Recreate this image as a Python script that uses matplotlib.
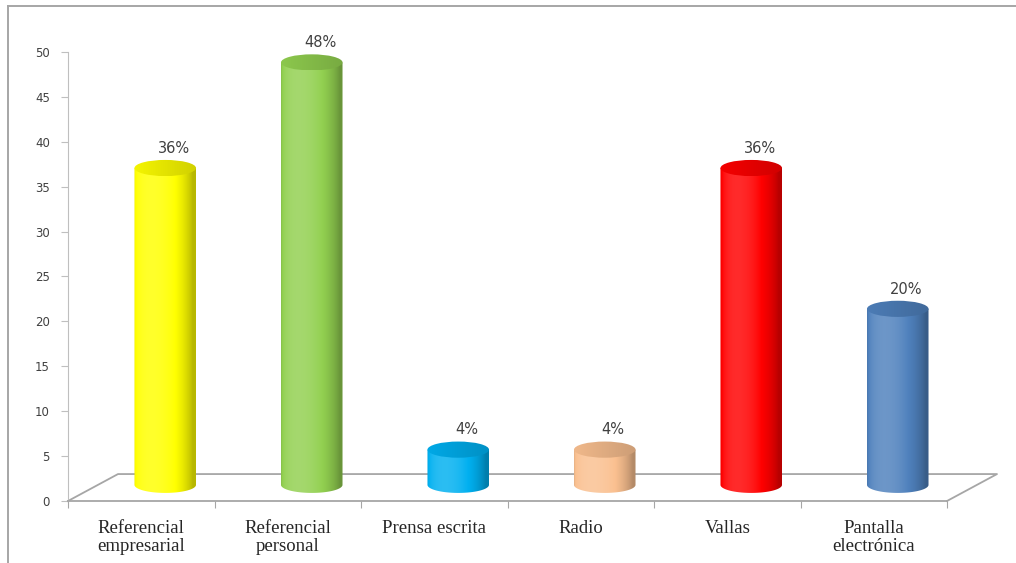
import numpy as np
import matplotlib.pyplot as plt
from matplotlib.patches import Polygon, Ellipse
from matplotlib.lines import Line2D
from matplotlib.colors import to_rgb

# datos de la encuesta
categorias = ["Referencial\nempresarial", "Referencial\npersonal", "Prensa escrita",
              "Radio", "Vallas", "Pantalla\nelectrónica"]
valores = [36, 48, 4, 4, 36, 20]
etiquetas = ["36%", "48%", "4%", "4%", "36%", "20%"]
colores = ["#FFFF00", "#92D050", "#00B0F0", "#FAC090", "#FF0000", "#4F81BD"]

W, H = 1016, 563
fig = plt.figure(figsize=(W / 100, H / 100), dpi=100)
fig.patch.set_facecolor("white")

# marco del grafico (solo arriba e izquierda)
gris = "#A6A6A6"
fig.add_artist(Line2D([8 / W, 1], [1 - 6 / H, 1 - 6 / H], color=gris, lw=1.4))
fig.add_artist(Line2D([8 / W, 8 / W], [0, 1 - 6 / H], color=gris, lw=1.4))

ax = fig.add_axes([68 / W, (H - 501) / H, 879 / W, 449 / H])
ax.set_xlim(-0.5, 5.5)
ax.set_ylim(0, 50)
ax.set_autoscale_on(False)

# piso en perspectiva
dx, dy = 50 / 146.5, 3.0
ax.plot([5.5, 5.5 + dx, -0.5 + dx, -0.5], [0, dy, dy, 0],
        color=gris, lw=1.3, clip_on=False)


def sombreado(base, n=200, luz=-0.45):
    t = np.linspace(-1, 1, n)
    phi = np.arcsin(t)
    b = 0.72 + 0.4 * np.clip(np.cos(phi - luz), 0, None)
    c = np.array(to_rgb(base))
    img = np.zeros((1, n, 3))
    for k in range(n):
        if b[k] <= 1:
            img[0, k] = c * b[k]
        else:
            img[0, k] = c + (1 - c) * (b[k] - 1) * 1.4
    return np.clip(img, 0, 1)


r, h = 0.21, 0.9
y0 = 1.8
escala = 0.98
off = 24 / 146.5
for i, (v, col, lab) in enumerate(zip(valores, colores, etiquetas)):
    cx = i + off
    y1 = y0 + v * escala
    th = np.linspace(np.pi, 2 * np.pi, 80)
    pts = np.column_stack([cx + r * np.cos(th), y0 + h * np.sin(th)])
    pts = np.vstack([[cx - r, y1], pts, [cx + r, y1]])
    cuerpo = Polygon(pts, closed=True, transform=ax.transData, facecolor="none", edgecolor="none")
    ax.add_patch(cuerpo)
    im = ax.imshow(sombreado(col), extent=(cx - r, cx + r, y0 - h, y1 + h),
                   aspect="auto", interpolation="bilinear", zorder=2)
    im.set_clip_path(cuerpo)

    tapa = Ellipse((cx, y1), 2 * r, 2 * h, transform=ax.transData,
                   facecolor="none", edgecolor="none")
    ax.add_patch(tapa)
    c = np.array(to_rgb(col))
    g = np.linspace(0.96, 0.82, 100)
    timg = np.clip(c[None, None, :] * g[None, :, None], 0, 1)
    im2 = ax.imshow(timg, extent=(cx - r, cx + r, y1 - h, y1 + h),
                    aspect="auto", interpolation="bilinear", zorder=3)
    im2.set_clip_path(tapa)

    ax.annotate(lab, (cx, y1 + h), xytext=(6, 3), textcoords="offset points",
                ha="center", va="bottom", fontsize=10.5, color="#404040",
                family="DejaVu Sans")

# ejes
for s in ["top", "right"]:
    ax.spines[s].set_visible(False)
ax.spines["left"].set_color("#BFBFBF")
ax.spines["bottom"].set_color(gris)
ax.spines["bottom"].set_linewidth(1.3)

ax.set_yticks(np.arange(0, 51, 5))
ax.tick_params(axis="y", direction="out", length=5, color="#BFBFBF", pad=8,
               labelsize=8.5, labelcolor="#404040")
ax.set_xticks(np.arange(-0.5, 6, 1))
ax.set_xticklabels([])
ax.tick_params(axis="x", which="major", direction="out", length=5, color=gris)
ax.set_xticks(np.arange(6), minor=True)
ax.set_xticklabels(categorias, minor=True, family="Liberation Serif", fontsize=13.5,
                   color="#262626")
ax.tick_params(axis="x", which="minor", length=0, pad=14)
for t in ax.get_xticklabels(minor=True):
    t.set_linespacing(1.05)

fig.savefig("out.png", dpi=100)
